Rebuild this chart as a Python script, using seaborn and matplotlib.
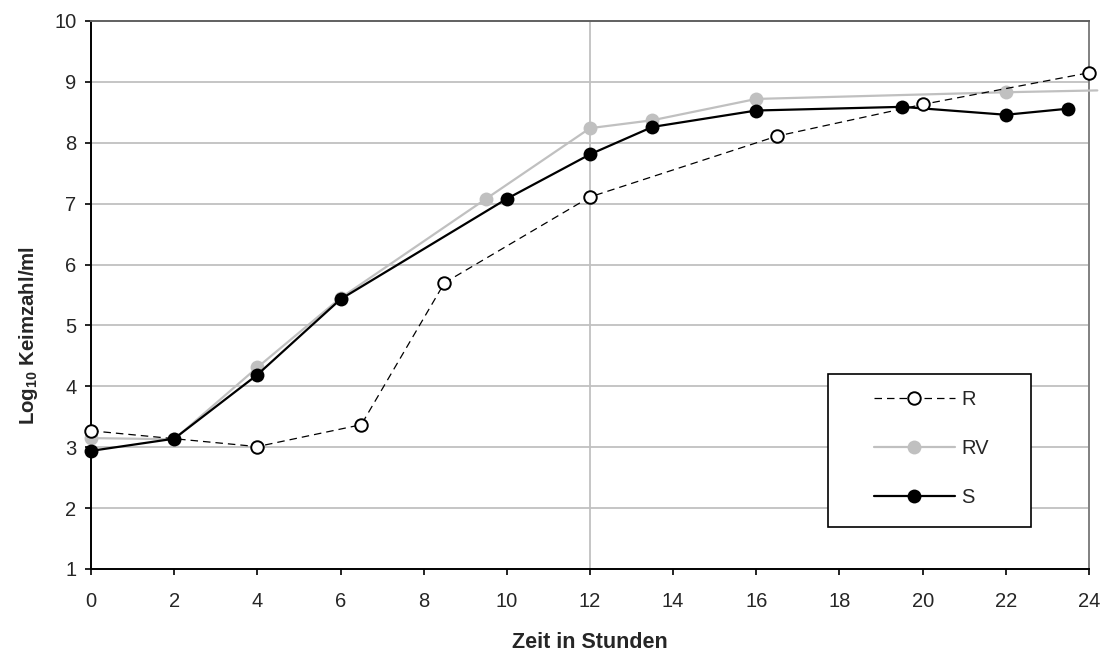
import matplotlib
matplotlib.use("Agg")
import matplotlib.pyplot as plt
import seaborn as sns
import pandas as pd
from matplotlib.patches import Rectangle

# ---- data ----
r_x = [0, 4, 6.5, 8.5, 12, 16.5, 20, 24]
r_y = [3.27, 3.01, 3.37, 5.70, 7.11, 8.11, 8.63, 9.15]

rv_x = [0, 2, 4, 6, 9.5, 12, 13.5, 16, 22, 24.2]
rv_y = [3.15, 3.13, 4.31, 5.45, 7.08, 8.24, 8.37, 8.72, 8.83, 8.86]

s_x = [0, 2, 4, 6, 10, 12, 13.5, 16, 19.5, 22, 23.5]
s_y = [2.94, 3.14, 4.19, 5.43, 7.08, 7.81, 8.26, 8.53, 8.59, 8.46, 8.56]

series_names = ["R", "RV", "S"]
x_ticks = list(range(0, 25, 2))
y_ticks = list(range(1, 11))

sns.set_style("white")
plt.rcParams["font.family"] = ["Liberation Sans", "DejaVu Sans"]
plt.rcParams["mathtext.fontset"] = "custom"
plt.rcParams["mathtext.rm"] = "Liberation Sans"
plt.rcParams["mathtext.bf"] = "Liberation Sans:bold"

fig = plt.figure(figsize=(11.09, 6.53), dpi=100)
ax = fig.add_axes([91 / 1109, 84 / 653, 998 / 1109, 548 / 653])

GRAY = "#c0c0c0"
FS = 14.5
LFS = 15.5

# grid
for yv in y_ticks[1:-1]:
    ax.axhline(yv, color=GRAY, lw=1.3, zorder=0)
ax.axvline(12, color=GRAY, lw=1.3, zorder=0)

df_r = pd.DataFrame({"x": r_x, "y": r_y})
df_rv = pd.DataFrame({"x": rv_x, "y": rv_y})
df_s = pd.DataFrame({"x": s_x, "y": s_y})

sns.lineplot(data=df_rv, x="x", y="y", ax=ax, color=GRAY, lw=1.6,
             marker="o", markersize=10, markeredgewidth=0, markerfacecolor=GRAY,
             markevery=list(range(len(rv_x) - 1)), clip_on=False, zorder=3,
             label=series_names[1], legend=False)
sns.lineplot(data=df_s, x="x", y="y", ax=ax, color="black", lw=1.6,
             marker="o", markersize=10, markeredgewidth=0, markerfacecolor="black",
             clip_on=False, zorder=4, label=series_names[2], legend=False)
sns.lineplot(data=df_r, x="x", y="y", ax=ax, color="black", lw=0.9,
             linestyle=(0, (6, 4)), marker="o", markersize=9,
             markerfacecolor="white", markeredgecolor="black", markeredgewidth=1.4,
             clip_on=False, zorder=5, label=series_names[0], legend=False)

ax.set_xlim(0, 24)
ax.set_ylim(1, 10)
ax.set_xticks(x_ticks)
ax.set_yticks(y_ticks)
ax.tick_params(axis="both", direction="out", length=4.5, width=1.2, color="black",
               labelsize=FS, left=True, bottom=True)
ax.tick_params(axis="y", pad=6)
ax.tick_params(axis="x", pad=12)

for side in ["left", "bottom"]:
    ax.spines[side].set_color("black")
    ax.spines[side].set_linewidth(1.4)
ax.spines["top"].set_color("#606060")
ax.spines["top"].set_linewidth(1.4)
ax.spines["right"].set_color("#808080")
ax.spines["right"].set_linewidth(1.4)

ax.set_xlabel("Zeit in Stunden", fontsize=LFS, fontweight="bold", labelpad=15)
ax.set_ylabel(r"Log$_{\mathbf{10}}$ Keimzahl/ml", fontsize=14.7, fontweight="bold")
ax.yaxis.set_label_coords((40 - 91) / 998, (569 - 336) / 548)

# legend
h, l = ax.get_legend_handles_labels()
order = [l.index(n) for n in series_names]
leg = ax.legend([h[i] for i in order], [l[i] for i in order],
                loc="upper left", bbox_to_anchor=((874 - 91) / 998, (569 - 390) / 548),
                frameon=False, fontsize=FS, handlelength=4.0, handletextpad=0.35,
                borderpad=0, labelspacing=1.5, borderaxespad=0)
leg.set_zorder(10)
rect = Rectangle(((828 - 91) / 998, (569 - 527) / 548), (1031 - 828) / 998, (527 - 374) / 548,
                 transform=ax.transAxes, facecolor="white", edgecolor="black", lw=1.2, zorder=8)
ax.add_patch(rect)

fig.savefig("out.png", dpi=100)
